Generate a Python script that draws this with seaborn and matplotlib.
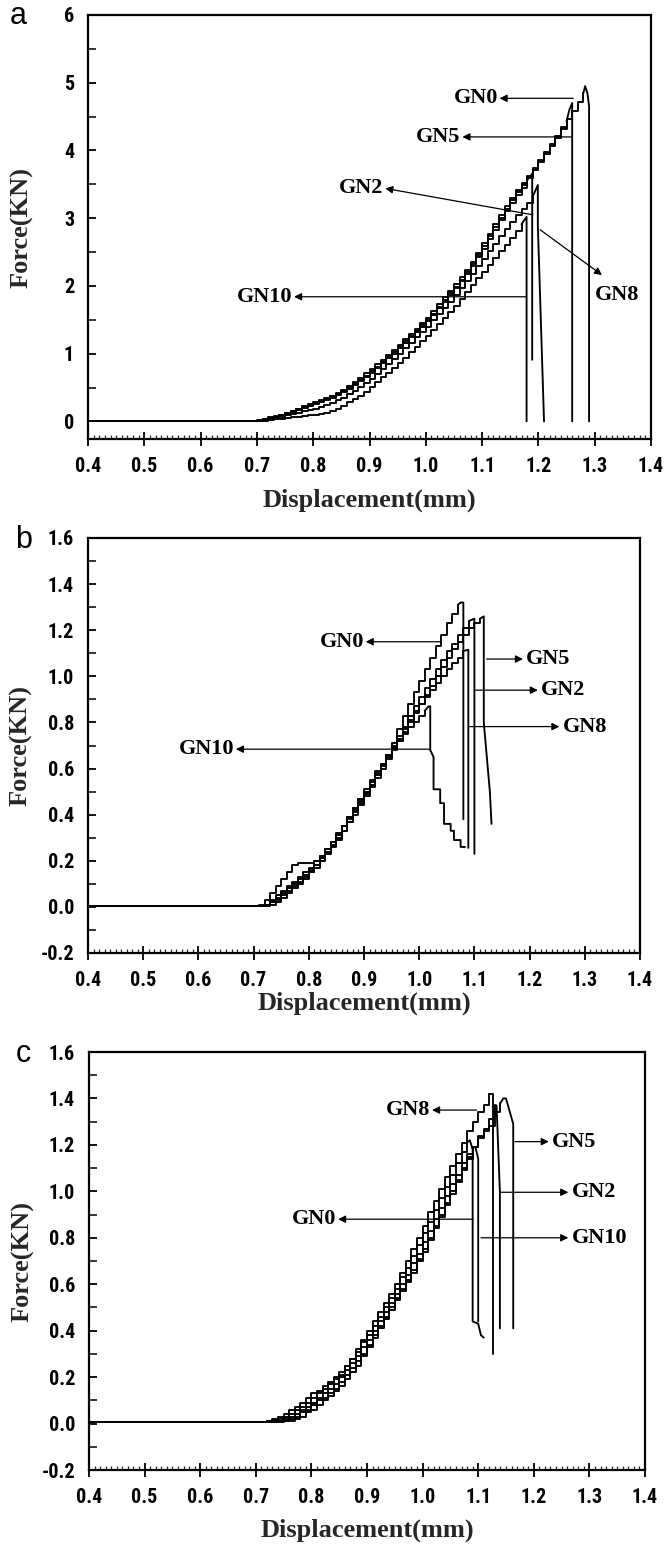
import matplotlib
matplotlib.use("Agg")
import matplotlib.pyplot as plt
import seaborn as sns
from matplotlib import font_manager as fm
from matplotlib.ticker import MultipleLocator, FormatStrFormatter

# ---------------- data ----------------
# displacement grid (mm) shared by all curves
disp_grid = [0.40, 0.45, 0.50, 0.55, 0.60, 0.65,
             0.70, 0.71, 0.72, 0.73, 0.74, 0.75, 0.76, 0.77, 0.78, 0.79,
             0.80, 0.81, 0.82, 0.83, 0.84, 0.85, 0.86, 0.87, 0.88, 0.89,
             0.90, 0.91, 0.92, 0.93, 0.94, 0.95, 0.96, 0.97, 0.98, 0.99,
             1.00, 1.01, 1.02, 1.03, 1.04, 1.05, 1.06, 1.07, 1.08, 1.09,
             1.10, 1.11, 1.12, 1.13, 1.14, 1.15, 1.16, 1.17, 1.18, 1.19,
             1.20, 1.21, 1.22, 1.23, 1.24, 1.25, 1.26, 1.27, 1.28, 1.29]

# ---- panel a (force, kN) ----
gn0_a = [0.01, 0.01, 0.01, 0.01, 0.01, 0.01,
         0.02, 0.04, 0.06, 0.08, 0.10, 0.13, 0.16, 0.19, 0.22, 0.25,
         0.28, 0.31, 0.34, 0.38, 0.42, 0.47, 0.52, 0.58, 0.64, 0.71,
         0.77, 0.84, 0.91, 0.98, 1.05, 1.13, 1.21, 1.29, 1.37, 1.45,
         1.53, 1.63, 1.73, 1.83, 1.93, 2.03, 2.13, 2.24, 2.36, 2.49,
         2.63, 2.77, 2.91, 3.05, 3.18, 3.30, 3.41, 3.52, 3.63, 3.74,
         3.86, 3.98, 4.10, 4.22, 4.34, 4.46, 4.58, 4.72, 4.85]
gn0_a_fail_x = [1.28, 1.283, 1.287, 1.29, 1.29]
gn0_a_fail_y = [4.85, 4.95, 4.85, 4.65, 0.0]

gn5_a = [0.01, 0.01, 0.01, 0.01, 0.01, 0.01,
         0.01, 0.03, 0.05, 0.07, 0.09, 0.12, 0.15, 0.18, 0.21, 0.24,
         0.27, 0.30, 0.33, 0.37, 0.41, 0.45, 0.50, 0.55, 0.61, 0.67,
         0.74, 0.81, 0.88, 0.95, 1.02, 1.10, 1.18, 1.26, 1.34, 1.42,
         1.50, 1.59, 1.69, 1.79, 1.89, 1.99, 2.09, 2.20, 2.32, 2.45,
         2.59, 2.73, 2.87, 3.01, 3.14, 3.27, 3.38, 3.49, 3.60, 3.71,
         3.83, 3.95, 4.07, 4.19, 4.31, 4.43]
gn5_a_fail_x = [1.25, 1.255, 1.26, 1.26]
gn5_a_fail_y = [4.43, 4.60, 4.70, 0.0]

gn2_a = [0.01, 0.01, 0.01, 0.01, 0.01, 0.01,
         0.01, 0.03, 0.05, 0.07, 0.09, 0.11, 0.14, 0.17, 0.20, 0.23,
         0.26, 0.29, 0.32, 0.35, 0.39, 0.43, 0.48, 0.53, 0.59, 0.65,
         0.72, 0.79, 0.86, 0.93, 1.00, 1.08, 1.16, 1.24, 1.32, 1.40,
         1.48, 1.57, 1.67, 1.77, 1.87, 1.97, 2.07, 2.18, 2.30, 2.42,
         2.55, 2.69, 2.83, 2.97, 3.10, 3.22, 3.34, 3.45, 3.56]
gn2_a_fail_x = [1.18, 1.189, 1.189]
gn2_a_fail_y = [3.56, 3.66, 0.91]

gn8_a = [0.01, 0.01, 0.01, 0.01, 0.01, 0.01,
         0.01, 0.02, 0.04, 0.05, 0.07, 0.09, 0.11, 0.13, 0.15, 0.17,
         0.19, 0.21, 0.24, 0.27, 0.31, 0.35, 0.40, 0.45, 0.51, 0.57,
         0.63, 0.70, 0.77, 0.84, 0.92, 1.00, 1.08, 1.16, 1.24, 1.32,
         1.40, 1.49, 1.58, 1.67, 1.77, 1.87, 1.97, 2.07, 2.18, 2.29,
         2.40, 2.51, 2.62, 2.73, 2.84, 2.94, 3.04, 3.13, 3.22, 3.32]
gn8_a_fail_x = [1.19, 1.199, 1.199, 1.21]
gn8_a_fail_y = [3.32, 3.49, 2.90, 0.0]

gn10_a = [0.01, 0.01, 0.01, 0.01, 0.01, 0.01,
          0.01, 0.01, 0.02, 0.03, 0.04, 0.05, 0.06, 0.07, 0.08, 0.09,
          0.10, 0.11, 0.13, 0.15, 0.19, 0.23, 0.28, 0.33, 0.38, 0.44,
          0.51, 0.58, 0.65, 0.72, 0.79, 0.86, 0.94, 1.02, 1.10, 1.18,
          1.26, 1.35, 1.44, 1.53, 1.62, 1.71, 1.81, 1.91, 2.01, 2.11,
          2.21, 2.31, 2.41, 2.51, 2.61, 2.71, 2.81, 2.91]
gn10_a_fail_x = [1.17, 1.179, 1.179]
gn10_a_fail_y = [2.91, 3.02, 0.0]

# ---- panel b ----
gn0_b = [0.005, 0.005, 0.005, 0.005, 0.005, 0.005,
         0.005, 0.01, 0.03, 0.06, 0.09, 0.12, 0.15, 0.18, 0.19, 0.19,
         0.19, 0.20, 0.22, 0.25, 0.28, 0.32, 0.35, 0.39, 0.43, 0.47,
         0.50, 0.53, 0.57, 0.61, 0.66, 0.71, 0.77, 0.83, 0.88, 0.93,
         0.98, 1.03, 1.08, 1.13, 1.18, 1.23, 1.27, 1.31]
gn0_b_fail_x = [1.07, 1.075, 1.08, 1.08]
gn0_b_fail_y = [1.31, 1.32, 1.32, 0.38]

gn2_b = [0.005, 0.005, 0.005, 0.005, 0.005, 0.005,
         0.005, 0.005, 0.01, 0.03, 0.05, 0.07, 0.09, 0.11, 0.13, 0.15,
         0.17, 0.20, 0.22, 0.25, 0.28, 0.31, 0.35, 0.38, 0.42, 0.46,
         0.50, 0.54, 0.58, 0.62, 0.66, 0.70, 0.74, 0.78, 0.83, 0.87,
         0.91, 0.95, 0.99, 1.03, 1.07, 1.11, 1.14, 1.18, 1.21, 1.24]
gn2_b_fail_x = [1.09, 1.10, 1.10]
gn2_b_fail_y = [1.24, 1.25, 0.23]

gn5_b = [0.005, 0.005, 0.005, 0.005, 0.005, 0.005,
         0.005, 0.005, 0.01, 0.02, 0.04, 0.06, 0.08, 0.10, 0.12, 0.14,
         0.16, 0.18, 0.21, 0.24, 0.27, 0.30, 0.33, 0.37, 0.40, 0.44,
         0.48, 0.52, 0.56, 0.60, 0.64, 0.68, 0.72, 0.76, 0.80, 0.84,
         0.88, 0.92, 0.96, 1.00, 1.04, 1.08, 1.12, 1.15, 1.18, 1.21,
         1.23, 1.25]
gn5_b_fail_x = [1.11, 1.117, 1.117, 1.128, 1.131]
gn5_b_fail_y = [1.25, 1.26, 0.80, 0.50, 0.36]

gn8_b = [0.005, 0.005, 0.005, 0.005, 0.005, 0.005,
         0.005, 0.005, 0.01, 0.02, 0.03, 0.05, 0.07, 0.09, 0.11, 0.13,
         0.15, 0.17, 0.20, 0.23, 0.26, 0.29, 0.33, 0.37, 0.41, 0.45,
         0.49, 0.53, 0.57, 0.61, 0.65, 0.69, 0.73, 0.77, 0.81, 0.85,
         0.88, 0.91, 0.94, 0.97, 1.00, 1.03, 1.06, 1.08, 1.11]
gn8_b_fail_x = [1.08, 1.089, 1.089]
gn8_b_fail_y = [1.11, 1.115, 0.256]

gn10_b = [0.005, 0.005, 0.005, 0.005, 0.005, 0.005,
          0.005, 0.005, 0.005, 0.01, 0.02, 0.04, 0.06, 0.08, 0.10, 0.12,
          0.15, 0.18, 0.21, 0.24, 0.27, 0.31, 0.35, 0.39, 0.43, 0.47,
          0.51, 0.55, 0.59, 0.62, 0.66, 0.69, 0.72, 0.75, 0.78, 0.80,
          0.83, 0.85]
gn10_b_fail_x = [1.01, 1.017, 1.02, 1.02, 1.026, 1.026, 1.038, 1.038, 1.045,
                 1.045, 1.057, 1.057, 1.063, 1.063, 1.075, 1.075, 1.083]
gn10_b_fail_y = [0.85, 0.87, 0.87, 0.68, 0.65, 0.51, 0.51, 0.45, 0.45,
                 0.36, 0.36, 0.33, 0.33, 0.29, 0.29, 0.26, 0.26]

# ---- panel c ----
gn8_c = [0.005, 0.005, 0.005, 0.005, 0.005, 0.005,
         0.005, 0.005, 0.01, 0.02, 0.03, 0.04, 0.06, 0.07, 0.09, 0.11,
         0.13, 0.14, 0.16, 0.18, 0.20, 0.21, 0.25, 0.28, 0.32, 0.36,
         0.40, 0.44, 0.48, 0.52, 0.56, 0.60, 0.65, 0.70, 0.75, 0.80,
         0.85, 0.91, 0.96, 1.01, 1.06, 1.11, 1.16, 1.21, 1.26, 1.30,
         1.34, 1.37, 1.42]
gn8_c_fail_x = [1.12, 1.127, 1.127]
gn8_c_fail_y = [1.42, 1.42, 0.30]

gn0_c = [0.005, 0.005, 0.005, 0.005, 0.005, 0.005,
         0.005, 0.005, 0.01, 0.01, 0.02, 0.03, 0.04, 0.06, 0.07, 0.09,
         0.11, 0.13, 0.15, 0.17, 0.19, 0.22, 0.25, 0.28, 0.31, 0.35,
         0.38, 0.42, 0.46, 0.50, 0.54, 0.58, 0.63, 0.67, 0.72, 0.77,
         0.82, 0.87, 0.92, 0.97, 1.02, 1.07, 1.12, 1.17, 1.21]
gn0_c_fail_x = [1.08, 1.085, 1.09, 1.09, 1.10, 1.105, 1.11]
gn0_c_fail_y = [1.21, 1.22, 1.18, 0.44, 0.43, 0.38, 0.37]

gn10_c = [0.005, 0.005, 0.005, 0.005, 0.005, 0.005,
          0.005, 0.005, 0.005, 0.01, 0.01, 0.02, 0.03, 0.04, 0.06, 0.07,
          0.09, 0.11, 0.13, 0.15, 0.17, 0.20, 0.23, 0.26, 0.29, 0.33,
          0.36, 0.40, 0.44, 0.48, 0.52, 0.56, 0.60, 0.64, 0.69, 0.73,
          0.78, 0.83, 0.88, 0.93, 0.98, 1.03, 1.07, 1.12, 1.16, 1.19]
gn10_c_fail_x = [1.09, 1.095, 1.10, 1.10]
gn10_c_fail_y = [1.19, 1.19, 1.14, 0.44]

gn2_c = [0.005, 0.005, 0.005, 0.005, 0.005, 0.005,
         0.005, 0.005, 0.005, 0.005, 0.01, 0.01, 0.02, 0.03, 0.05, 0.06,
         0.08, 0.10, 0.11, 0.13, 0.15, 0.18, 0.21, 0.24, 0.27, 0.30,
         0.34, 0.38, 0.42, 0.46, 0.50, 0.54, 0.58, 0.62, 0.66, 0.71,
         0.75, 0.80, 0.85, 0.90, 0.95, 1.00, 1.05, 1.10, 1.15, 1.19,
         1.24, 1.27, 1.31, 1.37]
gn2_c_fail_x = [1.13, 1.133, 1.139, 1.139]
gn2_c_fail_y = [1.37, 1.37, 1.00, 0.41]

gn5_c = [0.005, 0.005, 0.005, 0.005, 0.005, 0.005,
         0.005, 0.005, 0.005, 0.005, 0.005, 0.01, 0.01, 0.02, 0.03, 0.05,
         0.06, 0.08, 0.10, 0.12, 0.14, 0.16, 0.19, 0.22, 0.25, 0.29,
         0.33, 0.37, 0.41, 0.45, 0.49, 0.53, 0.57, 0.61, 0.65, 0.70,
         0.74, 0.79, 0.84, 0.89, 0.94, 0.99, 1.04, 1.09, 1.14, 1.19,
         1.23, 1.26, 1.28, 1.34, 1.38]
gn5_c_fail_x = [1.14, 1.145, 1.15, 1.163, 1.163]
gn5_c_fail_y = [1.38, 1.40, 1.40, 1.29, 0.41]

x_ticks = [0.4, 0.5, 0.6, 0.7, 0.8, 0.9, 1.0, 1.1, 1.2, 1.3, 1.4]

# ---------------- style ----------------
sns.set_theme(style="ticks")
plt.rcParams["font.family"] = ["Liberation Serif", "DejaVu Serif"]

def pick_font(cands):
    for c in cands:
        try:
            fm.findfont(fm.FontProperties(family=c), fallback_to_default=False)
            return c
        except Exception:
            pass
    return "DejaVu Sans"

tick_family = pick_font(["Liberation Sans Narrow", "Arial Narrow", "DejaVu Sans Condensed",
                         "Roboto Condensed", "Liberation Sans"])
narrow = ("Narrow" in tick_family) or ("Condensed" in tick_family)
tick_size = 14.5 if narrow else 12.5
serif = "Liberation Serif"
sans = "Liberation Sans"

W, H = 666, 1544
fig = plt.figure(figsize=(W / 100, H / 100), dpi=100)

def axes_px(left, top, right, bottom):
    return fig.add_axes([left / W, 1 - bottom / H, (right - left) / W, (bottom - top) / H])

ax_a = axes_px(88, 15, 651, 439)
ax_b = axes_px(88, 538, 640, 953)
ax_c = axes_px(89, 1052, 645, 1470)

LW = 1.35

def draw_curve(ax, y_rise, fail_x, fail_y):
    xs = disp_grid[:len(y_rise)]
    sns.lineplot(x=xs, y=y_rise, ax=ax, color="black", lw=LW, sort=False,
                 estimator=None, drawstyle="steps-post")
    sns.lineplot(x=fail_x, y=fail_y, ax=ax, color="black", lw=LW, sort=False,
                 estimator=None)

def style_axes(ax, ylim, ymajor, yminor, yfmt, xlabel_y):
    ax.set_xlim(0.4, 1.4)
    ax.set_ylim(*ylim)
    ax.set_xticks(x_ticks)
    ax.xaxis.set_minor_locator(MultipleLocator(0.01))
    ax.yaxis.set_major_locator(MultipleLocator(ymajor))
    ax.yaxis.set_minor_locator(MultipleLocator(yminor))
    ax.xaxis.set_major_formatter(FormatStrFormatter("%.1f"))
    ax.yaxis.set_major_formatter(FormatStrFormatter(yfmt))
    for s in ax.spines.values():
        s.set_visible(True)
        s.set_linewidth(1.6)
        s.set_color("black")
    ax.tick_params(axis="x", which="major", direction="inout", length=10, width=1.3,
                   pad=8, colors="black", top=False, labelsize=tick_size,
                   labelfontfamily=tick_family)
    ax.tick_params(axis="x", which="minor", direction="in", length=3.2, width=0.9,
                   top=False)
    ax.tick_params(axis="y", which="major", direction="in", length=6, width=1.3,
                   pad=10, colors="black", right=False, labelsize=tick_size,
                   labelfontfamily=tick_family)
    ax.tick_params(axis="y", which="minor", direction="in", length=6, width=1.3,
                   right=False)
    ax.set_xlabel("Displacement(mm)", fontsize=19, fontweight="bold", family=serif)
    ax.set_ylabel("Force(KN)", fontsize=19, fontweight="bold", family=serif)
    ax.xaxis.label.set_va("center")
    ax.yaxis.label.set_va("center")
    ax.xaxis.set_label_coords(0.5, xlabel_y)
    ax.set_facecolor("white")
    ax.grid(False)

def arrow_label(ax, text, tail, head, side):
    ax.annotate("", xy=head, xytext=tail,
                arrowprops=dict(arrowstyle="-|>", color="black", lw=0.9,
                                mutation_scale=11, shrinkA=0, shrinkB=0))
    if side == "left":
        ax.text(head[0] - 0.003, head[1], text, ha="right", va="center",
                fontsize=16, fontweight="bold", family=serif, color="black")
    else:
        ax.text(head[0] + 0.006, head[1], text, ha="left", va="center",
                fontsize=16, fontweight="bold", family=serif, color="black")

# ---- panel a ----
draw_curve(ax_a, gn10_a, gn10_a_fail_x, gn10_a_fail_y)
draw_curve(ax_a, gn8_a, gn8_a_fail_x, gn8_a_fail_y)
draw_curve(ax_a, gn2_a, gn2_a_fail_x, gn2_a_fail_y)
draw_curve(ax_a, gn5_a, gn5_a_fail_x, gn5_a_fail_y)
draw_curve(ax_a, gn0_a, gn0_a_fail_x, gn0_a_fail_y)
style_axes(ax_a, (-0.26, 6.0), 1, 0.5, "%d", -0.144)
ax_a.yaxis.set_label_coords((22 - 88) / 563, 0.5)
arrow_label(ax_a, "GN0", (1.262, 4.77), (1.131, 4.77), "left")
arrow_label(ax_a, "GN5", (1.258, 4.20), (1.065, 4.20), "left")
arrow_label(ax_a, "GN2", (1.19, 3.05), (0.928, 3.44), "left")
arrow_label(ax_a, "GN10", (1.179, 1.84), (0.766, 1.84), "left")
ax_a.annotate("", xy=(1.313, 2.16), xytext=(1.203, 2.83),
              arrowprops=dict(arrowstyle="-|>", color="black", lw=0.9,
                              mutation_scale=11, shrinkA=0, shrinkB=0))
ax_a.text(1.34, 1.87, "GN8", ha="center", va="center", fontsize=16,
          fontweight="bold", family=serif, color="black")

# ---- panel b ----
draw_curve(ax_b, gn10_b, gn10_b_fail_x, gn10_b_fail_y)
draw_curve(ax_b, gn8_b, gn8_b_fail_x, gn8_b_fail_y)
draw_curve(ax_b, gn5_b, gn5_b_fail_x, gn5_b_fail_y)
draw_curve(ax_b, gn2_b, gn2_b_fail_x, gn2_b_fail_y)
draw_curve(ax_b, gn0_b, gn0_b_fail_x, gn0_b_fail_y)
style_axes(ax_b, (-0.2, 1.6), 0.2, 0.1, "%.1f", -0.122)
ax_b.yaxis.set_label_coords((21 - 88) / 552, 0.5)
arrow_label(ax_b, "GN0", (1.038, 1.15), (0.903, 1.15), "left")
arrow_label(ax_b, "GN10", (1.019, 0.684), (0.668, 0.684), "left")
arrow_label(ax_b, "GN5", (1.122, 1.075), (1.188, 1.075), "right")
arrow_label(ax_b, "GN2", (1.102, 0.94), (1.215, 0.94), "right")
arrow_label(ax_b, "GN8", (1.089, 0.782), (1.254, 0.782), "right")

# ---- panel c ----
draw_curve(ax_c, gn5_c, gn5_c_fail_x, gn5_c_fail_y)
draw_curve(ax_c, gn2_c, gn2_c_fail_x, gn2_c_fail_y)
draw_curve(ax_c, gn10_c, gn10_c_fail_x, gn10_c_fail_y)
draw_curve(ax_c, gn0_c, gn0_c_fail_x, gn0_c_fail_y)
draw_curve(ax_c, gn8_c, gn8_c_fail_x, gn8_c_fail_y)
style_axes(ax_c, (-0.2, 1.6), 0.2, 0.1, "%.1f", -0.144)
ax_c.yaxis.set_label_coords((23 - 89) / 556, 0.5)
arrow_label(ax_c, "GN8", (1.097, 1.35), (1.017, 1.35), "left")
arrow_label(ax_c, "GN0", (1.091, 0.88), (0.848, 0.88), "left")
arrow_label(ax_c, "GN5", (1.166, 1.214), (1.227, 1.214), "right")
arrow_label(ax_c, "GN2", (1.139, 0.996), (1.262, 0.996), "right")
arrow_label(ax_c, "GN10", (1.105, 0.80), (1.262, 0.80), "right")

# bold tick labels
for ax in (ax_a, ax_b, ax_c):
    fig.canvas.draw()
    for lab in ax.get_xticklabels() + ax.get_yticklabels():
        lab.set_fontweight("bold")

# panel letters
for letter, (px, py) in {"a": (18, 16), "b": (24, 540), "c": (23, 1054)}.items():
    fig.text(px / W, 1 - py / H, letter, ha="center", va="center",
             fontsize=22, family=sans, color="black")

fig.savefig("out.png", dpi=100, facecolor="white")
